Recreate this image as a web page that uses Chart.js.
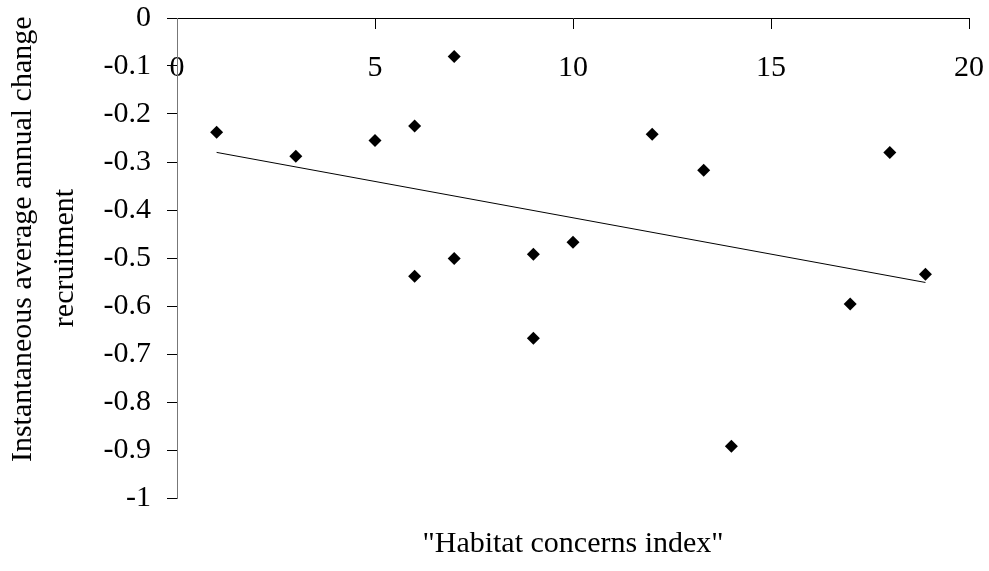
<!DOCTYPE html>
<html>
<head>
<meta charset="utf-8">
<script src="https://cdn.jsdelivr.net/npm/chart.js@4"></script>
<style>
  body { margin: 0; background: #fff; }
  #wrap { width: 989px; height: 571px; }
</style>
</head>
<body>
<div id="wrap"><canvas id="chart"></canvas></div>
<script>
// habitat concerns index vs recruitment change
const habitatIndex = [1, 3, 5, 6, 7, 6, 7, 9, 10, 9, 12, 13.3, 14, 17, 18, 18.9];
const recruitChange = [-0.238, -0.288, -0.255, -0.225, -0.080, -0.538, -0.501, -0.492, -0.467, -0.667, -0.242, -0.317, -0.892, -0.596, -0.280, -0.534];

// trend line end points
const trendX = [1, 18.9];
const trendY = [-0.280, -0.551];

const xTicks = [0, 5, 10, 15, 20];
const yTitleLines = ["     Instantaneous average annual change", "recruitment"];
const xTitle = '"Habitat concerns index"';

const FONT = "'Liberation Serif', 'Times New Roman', serif";

var points = habitatIndex.map(function (x, i) { return { x: x, y: recruitChange[i] }; });
var trend = trendX.map(function (x, i) { return { x: x, y: trendY[i] }; });

// keep label overhang from pushing the plot area around
function noPad(scale) {
    scale.paddingTop = 0;
    scale.paddingBottom = 0;
    scale.paddingLeft = 0;
    scale.paddingRight = 0;
}

var ctx = document.getElementById("chart").getContext("2d");

var chart = new Chart(ctx, {
    type: "scatter",
    data: {
        datasets: [
            {
                label: "points",
                data: points,
                pointStyle: "rectRot",
                pointRadius: 6.5,
                pointBorderWidth: 0,
                backgroundColor: "#000",
                borderColor: "#000"
            },
            {
                type: "line",
                label: "trend",
                data: trend,
                borderColor: "#000",
                borderWidth: 1,
                pointRadius: 0,
                fill: false
            }
        ]
    },
    options: {
        responsive: true,
        maintainAspectRatio: false,
        animation: false,
        layout: { padding: { top: 18, left: 0, right: 20, bottom: 0 } },
        plugins: {
            legend: { display: false },
            tooltip: { enabled: false }
        },
        scales: {
            x: {
                type: "linear",
                position: { y: 0 },
                min: xTicks[0],
                max: xTicks[xTicks.length - 1],
                afterBuildTicks: function (scale) {
                    scale.ticks = xTicks.map(function (v) { return { value: v }; });
                },
                afterFit: noPad,
                ticks: {
                    color: "#000",
                    padding: 22,
                    maxRotation: 0,
                    font: { family: FONT, size: 30 }
                },
                grid: { drawOnChartArea: false, drawTicks: true, tickLength: 10, color: "#000" },
                border: { color: "#000", width: 1 }
            },
            xt: {
                type: "linear",
                position: "bottom",
                min: 0,
                max: 20,
                afterFit: function (scale) { noPad(scale); scale.height = 73; },
                ticks: { display: false },
                grid: { display: false },
                border: { display: false },
                title: {
                    display: true,
                    text: xTitle,
                    color: "#000",
                    padding: { top: 0, bottom: 9 },
                    font: { family: FONT, size: 30 }
                }
            },
            y: {
                type: "linear",
                position: "left",
                min: -1,
                max: 0,
                afterFit: function (scale) { noPad(scale); scale.width = 177; },
                ticks: {
                    stepSize: 0.1,
                    color: "#000",
                    padding: 16,
                    font: { family: FONT, size: 30 },
                    callback: function (v) { return String(Number(v.toFixed(1))); }
                },
                grid: { drawOnChartArea: false, drawTicks: true, tickLength: 10, color: "#000" },
                border: { color: "#777", width: 1 },
                title: {
                    display: true,
                    text: yTitleLines,
                    color: "#000",
                    padding: { top: 3, bottom: 0 },
                    font: { family: FONT, size: 30, lineHeight: 1.37 }
                }
            }
        }
    }
});
</script>
</body>
</html>
